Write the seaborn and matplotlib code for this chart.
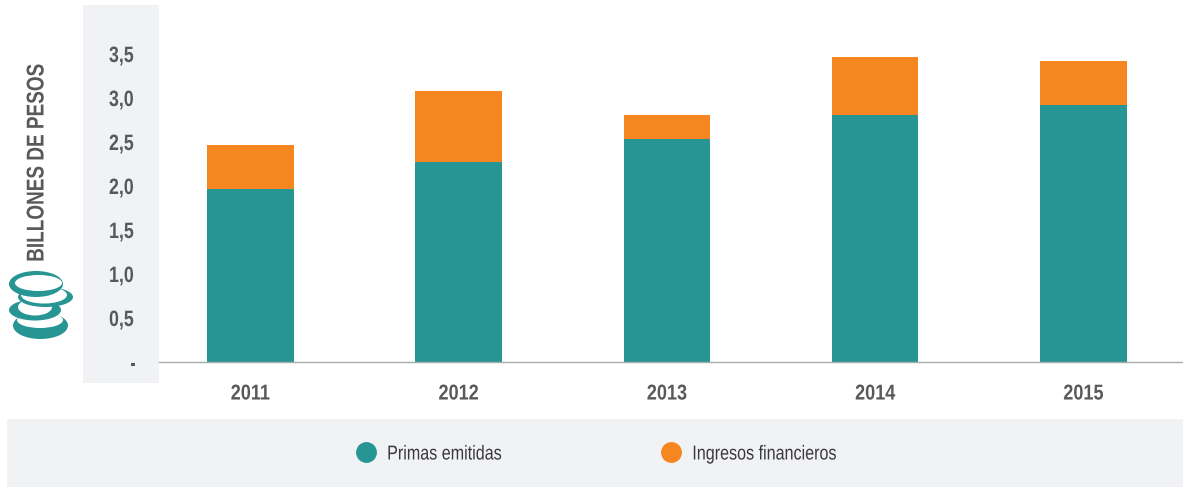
# Stacked bars of primas and ingresos, with the grey panels behind them.
import seaborn as sns
import matplotlib.pyplot as plt
from matplotlib.lines import Line2D
from matplotlib.patches import Ellipse, Rectangle
from matplotlib.patheffects import AbstractPathEffect
from matplotlib.transforms import Affine2D

years = ['2011', '2012', '2013', '2014', '2015']
primas = [1.97, 2.27, 2.53, 2.81, 2.92]
ingresos = [0.50, 0.81, 0.28, 0.66, 0.50]
y_ticks = [0, 0.5, 1.0, 1.5, 2.0, 2.5, 3.0, 3.5]
y_labels = ['-', '0,5', '1,0', '1,5', '2,0', '2,5', '3,0', '3,5']

TEAL = '#279594'
ORANGE = '#F68620'
PANEL = '#F1F2F4'
TEXT = '#58595B'


# No narrow font is installed, so squeeze the glyphs of the text sideways.
class Narrow(AbstractPathEffect):
    def __init__(self, sx, about_left=False):
        super().__init__()
        self.sx = sx
        self.about_left = about_left

    def draw_path(self, renderer, gc, tpath, affine, rgbFace=None):
        box = tpath.get_extents()
        mid = box.x0 if self.about_left else (box.x0 + box.x1) / 2
        squeeze = Affine2D().translate(-mid, 0).scale(self.sx, 1).translate(mid, 0)
        renderer.draw_path(gc, tpath, squeeze + affine, rgbFace)


sns.set_theme(style="white")
plt.rcParams['font.family'] = ['Liberation Sans', 'DejaVu Sans']

W, H = 1183, 487
fig = plt.figure(figsize=(W / 100, H / 100), dpi=100)

# Background layer in pixel coordinates: panels and the coin icon.
bg = fig.add_axes([0, 0, 1, 1], zorder=0)
bg.set_xlim(0, W)
bg.set_ylim(H, 0)
bg.axis('off')
bg.add_patch(Rectangle((83, 5), 76, 378, color=PANEL, lw=0))
bg.add_patch(Rectangle((7, 419), 1176, 68, color=PANEL, lw=0))

# coins, bottom one first: outer ellipse, then the white face
# the coin above hides most of each face and leaves a crescent
coins = [((40.5, 325.5), 55, 27, (40, 320), 46, 16),
         ((35, 310), 52, 21, (35, 307), 34, 17),
         ((45.5, 297), 55, 20, (44, 295), 46, 17),
         ((36, 284), 54, 26, (38.5, 283), 47, 16)]
for centre, w, h, inner, iw, ih in coins:
    bg.add_patch(Ellipse(centre, w, h, color=TEAL, lw=0))
    bg.add_patch(Ellipse(inner, iw, ih, color='white', lw=0))

label = bg.text(37, 163, 'BILLONES DE PESOS', rotation=90, ha='center', va='center',
                fontsize=17.5, fontweight='bold', color=TEXT)
label.set_path_effects([Narrow(0.78)])

# Chart layer
ax = fig.add_axes([159 / W, (H - 362) / H, (W - 159) / W, 362 / H], zorder=1)
ax.patch.set_alpha(0)
sns.barplot(x=years, y=primas, color=TEAL, saturation=1, width=0.415, linewidth=0, ax=ax)
sns.barplot(x=years, y=ingresos, bottom=primas, color=ORANGE, saturation=1, width=0.415,
            linewidth=0, ax=ax)

ax.set_xlim(-0.439, 4.478)
ax.set_ylim(0, 362 / 88)
ax.set_yticks(y_ticks, y_labels)
sns.despine(ax=ax, left=True, top=True, right=True)
ax.spines['bottom'].set_color('#A7A9AC')
ax.spines['bottom'].set_linewidth(1)
ax.tick_params(axis='both', length=0, labelcolor=TEXT)
ax.tick_params(axis='y', pad=16)
ax.tick_params(axis='x', pad=15.5)
for lab in ax.get_xticklabels():
    lab.set_fontweight('bold')
    lab.set_fontsize(15.5)
    lab.set_path_effects([Narrow(0.84)])
for lab in ax.get_yticklabels():
    lab.set_fontweight('bold')
    lab.set_fontsize(16)
    lab.set_path_effects([Narrow(0.8)])

# Legend with round markers, sitting in the lower panel
handles = [
    Line2D([], [], ls='', marker='o', ms=14, color=TEAL, label='Primas emitidas'),
    Line2D([], [], ls='', marker='o', ms=14, color=ORANGE, label='Ingresos financieros'),
]
leg = fig.legend(handles=handles, ncol=2, frameon=False, fontsize=14.5,
                 loc='center left', bbox_to_anchor=(328 / W, (H - 454) / H),
                 handletextpad=0.02, columnspacing=6.0, labelcolor='#3A3A3C')
for t in leg.get_texts():
    t.set_path_effects([Narrow(0.8, about_left=True)])

plt.savefig('out.png', dpi=100)
